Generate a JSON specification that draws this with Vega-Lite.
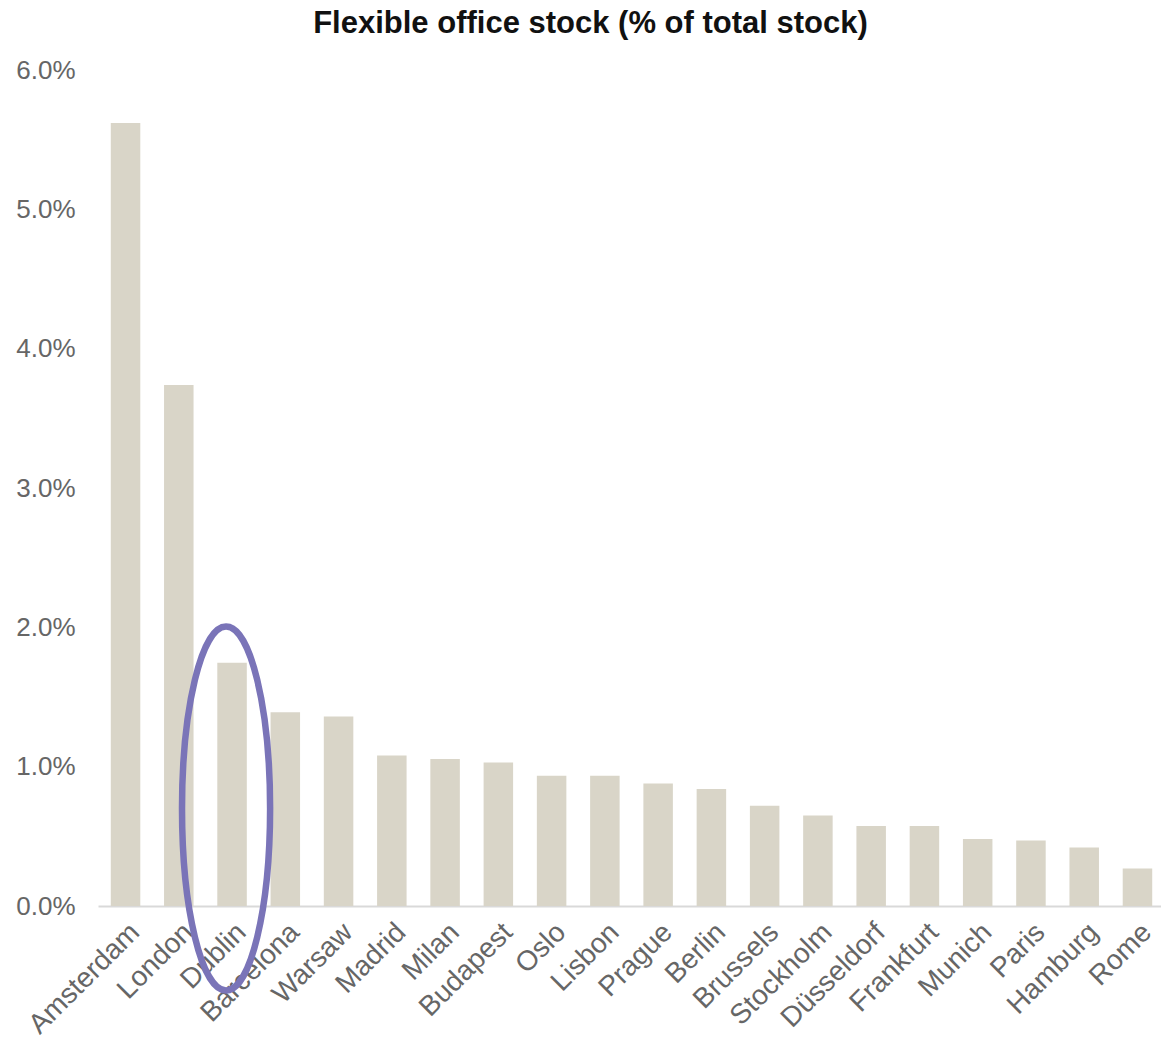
{
  "$schema": "https://vega.github.io/schema/vega-lite/v6.json",
  "autosize": {"type": "none"},
  "padding": {"left": 98, "top": 70, "right": 0, "bottom": 144},
  "width": 1067,
  "height": 836,
  "background": "white",
  "config": {"view": {"stroke": null}, "font": "Liberation Sans"},
  "title": {
    "text": "Flexible office stock (% of total stock)",
    "font": "Liberation Sans",
    "fontSize": 31,
    "fontWeight": "bold",
    "color": "#111111",
    "anchor": "middle",
    "frame": "group",
    "dx": -41,
    "offset": 17
  },
  "data": {
    "values": [
      {"city": "Amsterdam", "share": 0.0562},
      {"city": "London", "share": 0.0374},
      {"city": "Dublin", "share": 0.01745},
      {"city": "Barcelona", "share": 0.0139},
      {"city": "Warsaw", "share": 0.0136},
      {"city": "Madrid", "share": 0.0108},
      {"city": "Milan", "share": 0.01055},
      {"city": "Budapest", "share": 0.0103},
      {"city": "Oslo", "share": 0.00935},
      {"city": "Lisbon", "share": 0.00935},
      {"city": "Prague", "share": 0.0088},
      {"city": "Berlin", "share": 0.0084},
      {"city": "Brussels", "share": 0.0072},
      {"city": "Stockholm", "share": 0.0065},
      {"city": "Düsseldorf", "share": 0.00575},
      {"city": "Frankfurt", "share": 0.00575},
      {"city": "Munich", "share": 0.0048},
      {"city": "Paris", "share": 0.0047},
      {"city": "Hamburg", "share": 0.0042},
      {"city": "Rome", "share": 0.0027}
    ]
  },
  "encoding": {
    "x": {
      "field": "city",
      "type": "nominal",
      "sort": null,
      "scale": {"paddingInner": 0.446, "paddingOuter": 0.24},
      "axis": {
        "title": null,
        "labelAngle": -45,
        "labelFontSize": 28,
        "labelColor": "#666666",
        "labelPadding": 12,
        "labelDx": -6,
        "ticks": false,
        "tickSize": 0,
        "domainColor": "#d9d9d9",
        "domainWidth": 2,
        "grid": false
      }
    }
  },
  "layer": [
    {
      "mark": {"type": "bar", "color": "#d9d5c8"},
      "encoding": {
        "y": {
          "field": "share",
          "type": "quantitative",
          "scale": {"domain": [0, 0.06], "nice": false},
          "axis": {
            "title": null,
            "format": ".1%",
            "values": [0, 0.01, 0.02, 0.03, 0.04, 0.05, 0.06],
            "labelFontSize": 26,
            "labelColor": "#666666",
            "labelPadding": 23,
            "ticks": false,
            "tickSize": 0,
            "domain": false,
            "grid": false
          }
        }
      }
    },
    {
      "transform": [{"filter": "datum.city === 'Dublin'"}],
      "mark": {
        "type": "point",
        "shape": "M0,-1C0.1337,-1 0.242,-0.5523 0.242,0C0.242,0.5523 0.1337,1 0,1C-0.1337,1 -0.242,0.5523 -0.242,0C-0.242,-0.5523 -0.1337,-1 0,-1Z",
        "size": 132496,
        "filled": false,
        "stroke": "#7a74b8",
        "strokeWidth": 6.5,
        "opacity": 1,
        "xOffset": -6
      },
      "encoding": {
        "y": {"datum": 0.007, "type": "quantitative"}
      }
    }
  ]
}
